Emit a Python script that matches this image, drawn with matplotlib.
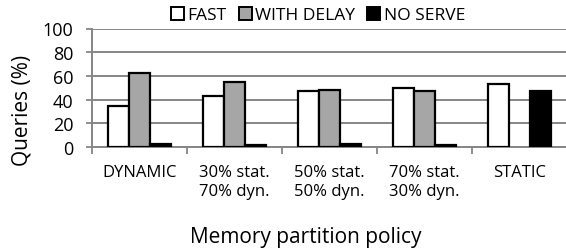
import matplotlib
matplotlib.use("Agg")
import matplotlib.pyplot as plt
import numpy as np
from matplotlib.patches import Patch

categories = ["DYNAMIC", "30% stat.\n70% dyn.", "50% stat.\n50% dyn.", "70% stat.\n30% dyn.", "STATIC"]
fast = [35, 43, 47, 50, 53]
with_delay = [62.5, 55, 48.5, 47, 0]
no_serve = [2.5, 2, 2.5, 2, 47]
series_names = ["FAST", "WITH DELAY", "NO SERVE"]
colors = ["white", "#a6a6a6", "black"]

plt.rcParams['font.family'] = ['Open Sans', 'DejaVu Sans']

W, H = 566, 251
fig = plt.figure(figsize=(W / 100, H / 100), dpi=100)
left, right, y0, y100 = 92, 566, 148, 29.5
ax = fig.add_axes([left / W, (H - y0) / H, (right - left) / W, (y0 - y100) / H])

x = np.arange(len(categories))
w = 0.22
for i, (vals, c) in enumerate(zip([fast, with_delay, no_serve], colors)):
    keep = [j for j, v in enumerate(vals) if v > 0]
    xs = x[keep] + (i - 1) * w
    ax.bar(xs, [vals[j] for j in keep], width=w, color=c, edgecolor="black",
           linewidth=1.6, zorder=3)

group_px = 95.0
ax.set_xlim(-0.5, -0.5 + (right - left) / group_px)
ax.set_ylim(0, 100)
ax.set_yticks([0, 20, 40, 60, 80, 100])
ax.tick_params(axis='y', length=4.5, width=1.3, color="#868686", labelsize=13, pad=9)
ax.yaxis.grid(True, color="#868686", linewidth=1.4, zorder=0)
ax.set_xticks(x)
ax.set_xticklabels(categories, fontsize=12, linespacing=1.3)
ax.tick_params(axis='x', length=0, pad=12)
ax.set_xticks(np.arange(len(categories)) - 0.5, minor=True)
ax.tick_params(axis='x', which='minor', length=5, width=1.3, color="#868686")

for s in ["top", "right"]:
    ax.spines[s].set_visible(False)
for s in ["left", "bottom"]:
    ax.spines[s].set_color("#868686")
    ax.spines[s].set_linewidth(1.4)

fig.text(22 / W, 1 - 110 / H, "Queries (%)", rotation=90, ha="center", va="center", fontsize=15)
fig.text(306 / W, 1 - 243 / H, "Memory partition policy", ha="center", va="baseline", fontsize=15)

handles = [Patch(facecolor=c, edgecolor="black", linewidth=1.4) for c in colors]
fig.legend(handles, series_names, loc="center", bbox_to_anchor=(318 / W, 1 - 16 / H),
           ncol=3, frameon=False, fontsize=12.5, handlelength=0.75, handleheight=0.75,
           handletextpad=0.2, columnspacing=0.7, borderaxespad=0, borderpad=0)

fig.savefig("out.png", dpi=100)
